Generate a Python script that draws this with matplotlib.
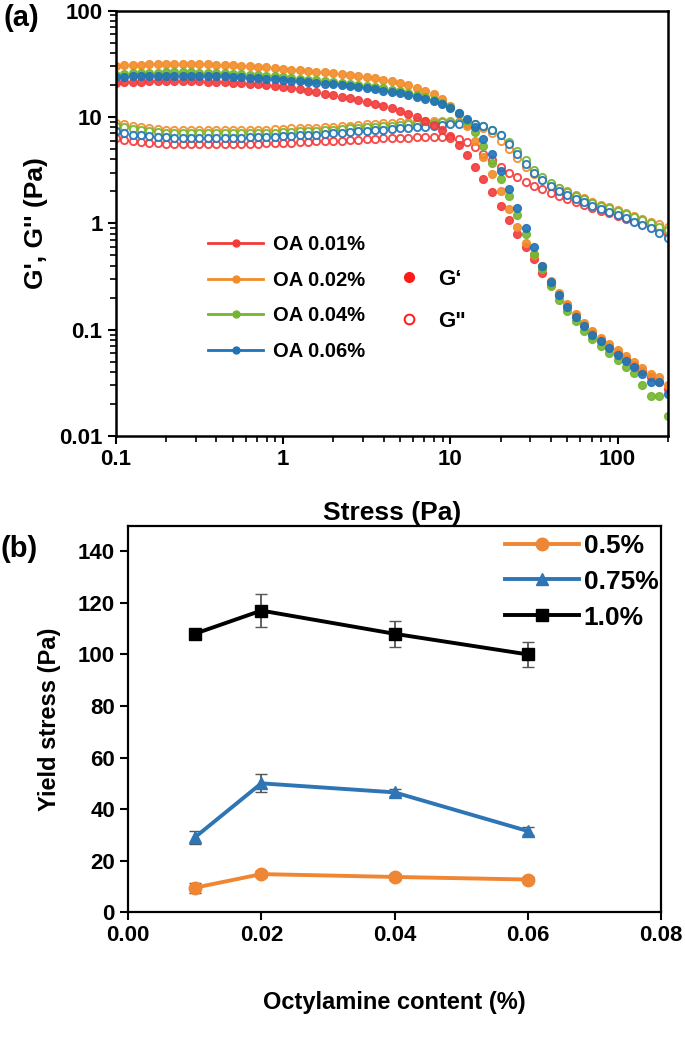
import matplotlib
matplotlib.use("Agg")
import matplotlib.pyplot as plt
from matplotlib.lines import Line2D

# ---- panel (a): stress sweep, G' (filled) and G'' (open) ----
stress = [0.1, 0.112, 0.126, 0.141, 0.158, 0.178, 0.2, 0.224, 0.251, 0.282,
          0.316, 0.355, 0.398, 0.447, 0.501, 0.562, 0.631, 0.708, 0.794, 0.891,
          1.0, 1.12, 1.26, 1.41, 1.58, 1.78, 2.0, 2.24, 2.51, 2.82,
          3.16, 3.55, 3.98, 4.47, 5.01, 5.62, 6.31, 7.08, 7.94, 8.91,
          10.0, 11.2, 12.6, 14.1, 15.8, 17.8, 20.0, 22.4, 25.1, 28.2,
          31.6, 35.5, 39.8, 44.7, 50.1, 56.2, 63.1, 70.8, 79.4, 89.1,
          100, 112, 126, 141, 158, 178, 200]

gp_001 = [21.0, 21.2, 21.4, 21.5, 21.6, 21.6, 21.7, 21.7, 21.7, 21.7,
          21.6, 21.5, 21.4, 21.2, 21.0, 20.8, 20.5, 20.2, 19.8, 19.4,
          19.0, 18.6, 18.2, 17.7, 17.2, 16.6, 16.0, 15.5, 15.0, 14.4,
          13.8, 13.2, 12.6, 12.0, 11.4, 10.7, 10.0, 9.2, 8.4, 7.5,
          6.6, 5.5, 4.4, 3.4, 2.6, 1.95, 1.45, 1.07, 0.8, 0.6,
          0.46, 0.34, 0.27, 0.21, 0.17, 0.137, 0.112, 0.094, 0.08, 0.069,
          0.06, 0.053, 0.047, 0.041, 0.036, 0.032, 0.028]
gp_002 = [30.0, 30.5, 30.8, 31.0, 31.2, 31.3, 31.4, 31.4, 31.4, 31.4,
          31.3, 31.2, 31.0, 30.8, 30.6, 30.3, 30.0, 29.6, 29.2, 28.7,
          28.2, 27.8, 27.4, 27.0, 26.6, 26.2, 25.8, 25.3, 24.8, 24.2,
          23.6, 23.0, 22.3, 21.6, 20.8, 19.9, 18.9, 17.7, 16.3, 14.7,
          12.8, 10.6, 8.3, 6.0, 4.2, 2.9, 2.0, 1.35, 0.92, 0.65,
          0.5, 0.4, 0.29, 0.22, 0.175, 0.14, 0.115, 0.097, 0.084, 0.073,
          0.064, 0.057, 0.05, 0.044, 0.038, 0.036, 0.03]
gp_004 = [25.0, 25.4, 25.7, 25.9, 26.0, 26.1, 26.2, 26.2, 26.2, 26.2,
          26.1, 26.0, 25.9, 25.7, 25.5, 25.3, 25.0, 24.7, 24.4, 24.0,
          23.6, 23.2, 22.8, 22.4, 22.0, 21.6, 21.2, 20.8, 20.4, 20.0,
          19.6, 19.1, 18.6, 18.1, 17.5, 16.9, 16.2, 15.4, 14.5, 13.5,
          12.4, 11.0, 9.2, 7.2, 5.3, 3.7, 2.6, 1.8, 1.2, 0.8,
          0.52, 0.37, 0.26, 0.19, 0.15, 0.12, 0.098, 0.082, 0.07, 0.06,
          0.052, 0.045, 0.039, 0.03, 0.024, 0.024, 0.0155]
gp_006 = [23.5, 23.8, 24.0, 24.2, 24.3, 24.4, 24.4, 24.4, 24.4, 24.4,
          24.3, 24.2, 24.1, 24.0, 23.8, 23.6, 23.4, 23.1, 22.8, 22.5,
          22.2, 21.9, 21.6, 21.3, 21.0, 20.6, 20.2, 19.8, 19.4, 19.0,
          18.6, 18.2, 17.7, 17.2, 16.7, 16.1, 15.5, 14.8, 14.0, 13.1,
          12.1, 11.0, 9.6, 8.0, 6.2, 4.5, 3.1, 2.1, 1.4, 0.9,
          0.6, 0.4, 0.28, 0.21, 0.165, 0.133, 0.108, 0.09, 0.078, 0.067,
          0.058, 0.051, 0.045, 0.038, 0.032, 0.032, 0.025]

gpp_001 = [6.3, 6.1, 5.9, 5.8, 5.7, 5.7, 5.6, 5.6, 5.6, 5.6,
           5.6, 5.6, 5.6, 5.6, 5.6, 5.6, 5.6, 5.6, 5.7, 5.7,
           5.7, 5.7, 5.8, 5.8, 5.9, 5.9, 6.0, 6.0, 6.1, 6.1,
           6.2, 6.2, 6.3, 6.3, 6.4, 6.4, 6.5, 6.5, 6.5, 6.5,
           6.4, 6.2, 5.8, 5.2, 4.5, 3.9, 3.4, 3.0, 2.7, 2.45,
           2.25, 2.08, 1.93, 1.8, 1.68, 1.58, 1.48, 1.4, 1.32, 1.25,
           1.18, 1.11, 1.05, 0.99, 0.93, 0.87, 0.8]
gpp_002 = [8.8, 8.5, 8.2, 8.0, 7.8, 7.7, 7.6, 7.5, 7.5, 7.5,
           7.5, 7.5, 7.5, 7.5, 7.5, 7.5, 7.6, 7.6, 7.6, 7.7,
           7.7, 7.8, 7.8, 7.9, 7.9, 8.0, 8.1, 8.2, 8.3, 8.4,
           8.5, 8.6, 8.7, 8.8, 8.9, 9.0, 9.1, 9.2, 9.2, 9.2,
           9.1, 9.0, 8.8, 8.4, 7.8, 7.0, 6.0, 5.0, 4.1, 3.4,
           2.9, 2.6, 2.35, 2.15, 2.0, 1.85, 1.72, 1.6, 1.5, 1.42,
           1.34, 1.26, 1.18, 1.1, 1.04, 0.98, 0.93]
gpp_004 = [8.3, 8.0, 7.7, 7.5, 7.3, 7.2, 7.1, 7.1, 7.0, 7.0,
           7.0, 7.0, 7.0, 7.0, 7.0, 7.0, 7.0, 7.1, 7.1, 7.1,
           7.2, 7.2, 7.3, 7.3, 7.4, 7.5, 7.6, 7.7, 7.8, 7.9,
           8.0, 8.1, 8.2, 8.3, 8.4, 8.5, 8.6, 8.7, 8.8, 8.9,
           8.9, 8.9, 8.8, 8.6, 8.2, 7.6, 6.8, 5.8, 4.8, 3.9,
           3.2, 2.7, 2.4, 2.15, 1.97, 1.82, 1.68, 1.56, 1.46, 1.38,
           1.3, 1.22, 1.14, 1.07, 1.0, 0.93, 0.86]
gpp_006 = [7.3, 7.0, 6.8, 6.7, 6.6, 6.5, 6.5, 6.4, 6.4, 6.4,
           6.4, 6.4, 6.4, 6.4, 6.4, 6.4, 6.5, 6.5, 6.5, 6.5,
           6.6, 6.6, 6.7, 6.7, 6.8, 6.9, 7.0, 7.1, 7.2, 7.3,
           7.4, 7.5, 7.6, 7.7, 7.8, 7.9, 8.0, 8.1, 8.3, 8.4,
           8.5, 8.6, 8.6, 8.5, 8.2, 7.6, 6.7, 5.6, 4.5, 3.6,
           3.0, 2.55, 2.25, 2.02, 1.85, 1.7, 1.57, 1.46, 1.36, 1.28,
           1.2, 1.12, 1.04, 0.97, 0.9, 0.82, 0.73]

oa_labels = ['OA 0.01%', 'OA 0.02%', 'OA 0.04%', 'OA 0.06%']
oa_colors = ['#f23b3b', '#f28c28', '#74b530', '#1f73b7']
gp_all = [gp_001, gp_002, gp_004, gp_006]
gpp_all = [gpp_001, gpp_002, gpp_004, gpp_006]

# ---- panel (b): yield stress vs octylamine content ----
octylamine = [0.01, 0.02, 0.04, 0.06]
ys_05 = [9.5, 14.8, 13.7, 12.7]
err_05 = [2.0, 1.2, 1.0, 1.0]
ys_075 = [29.0, 50.0, 46.5, 31.5]
err_075 = [2.5, 3.5, 1.5, 1.5]
ys_10 = [108.0, 117.0, 108.0, 100.0]
err_10 = [1.5, 6.5, 5.0, 5.0]
conc_labels = ['0.5%', '0.75%', '1.0%']

plt.rcParams['font.family'] = ['Liberation Sans', 'DejaVu Sans']
plt.rcParams['font.weight'] = 'bold'
plt.rcParams['axes.labelweight'] = 'bold'

fig = plt.figure(figsize=(6.85, 10.51), dpi=100)

# panel (a)
ax1 = fig.add_axes([0.169, 0.585, 0.806, 0.405])
for gp, gpp, c in zip(gp_all, gpp_all, oa_colors):
    ax1.plot(stress, gpp, 'o', ms=5.2, mfc='white', mec=c, mew=1.4, alpha=0.9)
for gp, gpp, c in zip(gp_all, gpp_all, oa_colors):
    ax1.plot(stress, gp, 'o', ms=5.6, color=c, mec=c, alpha=0.9)
ax1.set_xscale('log')
ax1.set_yscale('log')
ax1.set_xlim(0.1, 200)
ax1.set_ylim(0.01, 100)
ax1.set_xticks([0.1, 1, 10, 100])
ax1.set_xticklabels(['0.1', '1', '10', '100'])
ax1.set_yticks([0.01, 0.1, 1, 10, 100])
ax1.set_yticklabels(['0.01', '0.1', '1', '10', '100'])
ax1.tick_params(which='major', direction='out', length=6, width=1.5, labelsize=16)
ax1.tick_params(which='minor', direction='out', length=4, width=1.2)
for sp in ax1.spines.values():
    sp.set_linewidth(1.8)
ax1.set_xlabel('Stress (Pa)', fontsize=19, labelpad=22)
ax1.set_ylabel("G', G'' (Pa)", fontsize=19, labelpad=8)

h_oa = [Line2D([], [], color=c, lw=2, marker='o', ms=5) for c in oa_colors]
leg1 = ax1.legend(h_oa, oa_labels, loc='upper left', bbox_to_anchor=(0.135, 0.515),
                  frameon=False, handlelength=2.7, handletextpad=0.5, labelspacing=0.82,
                  prop={'weight': 'bold', 'size': 14.5})
ax1.add_artist(leg1)
h_g = [Line2D([], [], ls='none', marker='o', ms=7, color='#ff1a1a'),
       Line2D([], [], ls='none', marker='o', ms=7, mfc='white', mec='#ff1a1a', mew=1.4)]
ax1.legend(h_g, ['G\u2018', 'G"'], loc='upper left', bbox_to_anchor=(0.475, 0.44),
           frameon=False, handlelength=1.0, labelspacing=0.95,
           prop={'weight': 'bold', 'size': 16})
fig.text(0.005, 0.983, '(a)', fontsize=21, weight='bold', va='center')

# panel (b)
ax2 = fig.add_axes([0.187, 0.132, 0.778, 0.368])
ax2.errorbar(octylamine, ys_05, yerr=err_05, color='#ef8633', lw=2.8, marker='o', ms=9,
             ecolor='#555555', elinewidth=1.3, capsize=4, label=conc_labels[0])
ax2.errorbar(octylamine, ys_075, yerr=err_075, color='#2e75b6', lw=2.8, marker='^', ms=9,
             ecolor='#555555', elinewidth=1.3, capsize=4, label=conc_labels[1])
ax2.errorbar(octylamine, ys_10, yerr=err_10, color='black', lw=2.8, marker='s', ms=8,
             ecolor='#555555', elinewidth=1.3, capsize=4, label=conc_labels[2])
ax2.set_xlim(0, 0.08)
ax2.set_ylim(0, 150)
ax2.set_xticks([0.0, 0.02, 0.04, 0.06, 0.08])
ax2.set_xticklabels(['0.00', '0.02', '0.04', '0.06', '0.08'])
ax2.set_yticks(range(0, 141, 20))
ax2.tick_params(direction='out', length=6, width=1.5, labelsize=16)
for sp in ax2.spines.values():
    sp.set_linewidth(1.6)
ax2.set_xlabel('Octylamine content (%)', fontsize=17, labelpad=32)
ax2.set_ylabel('Yield stress (Pa)', fontsize=17, labelpad=12)
handles, labels = ax2.get_legend_handles_labels()
handles = [h[0] for h in handles]
ax2.legend(handles, labels, loc='upper right', bbox_to_anchor=(1.04, 1.04), frameon=False,
           handlelength=2.8, labelspacing=0.45, handletextpad=0.2, fontsize=19)
fig.text(0.0, 0.478, '(b)', fontsize=21, weight='bold', va='center')

fig.savefig('out.png', dpi=100)
